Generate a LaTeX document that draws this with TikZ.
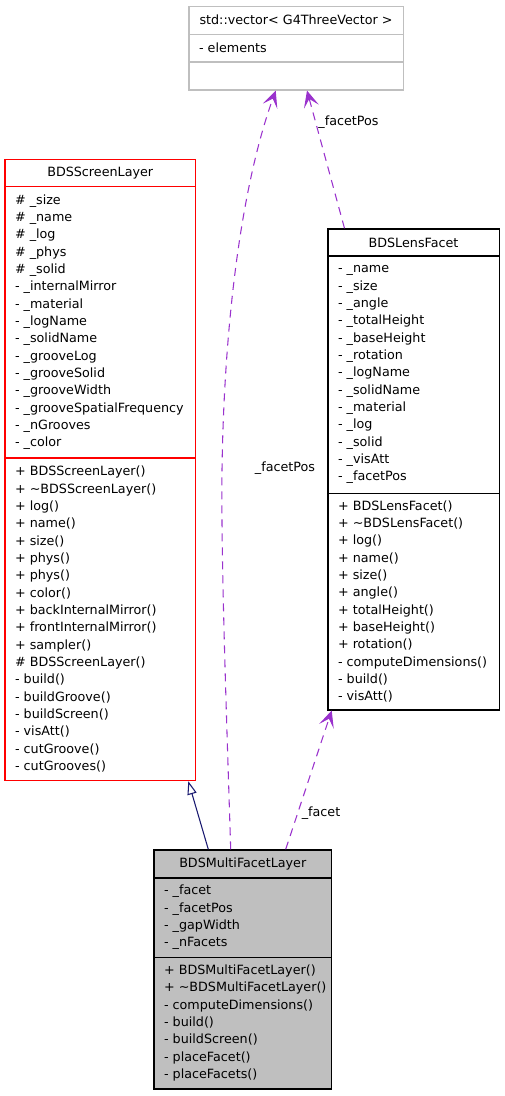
\documentclass[tikz,border=0pt]{standalone}
\usepackage{fontspec}
\setmainfont{DejaVu Sans}
\usetikzlibrary{arrows.meta,calc}
\definecolor{usepurple}{HTML}{9A32CD}
\definecolor{inhnavy}{HTML}{191970}
\definecolor{boxgray}{HTML}{BFBFBF}
\definecolor{boxred}{HTML}{FF0000}
\begin{document}
\begin{tikzpicture}[x=0.75pt,y=-0.75pt,
  every node/.style={font=\fontsize{9.55}{13}\selectfont, inner sep=0pt},
  cell/.style={draw, rectangle, anchor=north west, line width=0.9pt},
  lines/.style={anchor=west, align=left},
  usage/.style={draw=usepurple, line width=0.8pt, dash pattern=on 6pt off 4.5pt,
    -{Stealth[length=12.5pt,width=11.5pt,inset=6pt]}},
  inherit/.style={draw=inhnavy, line width=0.8pt,
    -{Triangle[open,length=10pt,width=7pt,fill=white]}}
]
\useasboundingbox (0,0) rectangle (504,1096);

% std::vector< G4ThreeVector >
\node[cell, draw=boxgray, minimum width=160.8pt, minimum height=20.9pt] (vt) at (188.3,5.7) {std::vector< G4ThreeVector >};
\node[cell, draw=boxgray, minimum width=160.8pt, minimum height=20.9pt] (va) at (188.3,33.6) {};
\node[lines] (vatx) at ($(va.west)+(10.5,0)$) {- elements};
\node[cell, draw=boxgray, minimum width=160.8pt, minimum height=20.9pt] (vm) at (188.3,61.5) {};

% BDSScreenLayer
\node[cell, draw=boxred, minimum width=143pt, minimum height=20.25pt] (st) at (4.3,159) {BDSScreenLayer};
\node[cell, draw=boxred, minimum width=143pt, minimum height=203.5pt] (sa) at (4.3,186) {};
\node[lines] (satx) at ($(sa.west)+(10.5,0)$) {\# \_size\\\# \_name\\\# \_log\\\# \_phys\\\# \_solid\\- \_internalMirror\\- \_material\\- \_logName\\- \_solidName\\- \_grooveLog\\- \_grooveSolid\\- \_grooveWidth\\- \_grooveSpatialFrequency\\- \_nGrooves\\- \_color};
\node[cell, draw=boxred, minimum width=143pt, minimum height=242pt] (sm) at (4.3,457.3) {};
\node[lines] (smtx) at ($(sm.west)+(10.5,0)$) {+ BDSScreenLayer()\\+ \textasciitilde BDSScreenLayer()\\+ log()\\+ name()\\+ size()\\+ phys()\\+ phys()\\+ color()\\+ backInternalMirror()\\+ frontInternalMirror()\\+ sampler()\\\# BDSScreenLayer()\\- build()\\- buildGroove()\\- buildScreen()\\- visAtt()\\- cutGroove()\\- cutGrooves()};

% BDSLensFacet
\node[cell, minimum width=128.4pt, minimum height=20.25pt] (lt) at (327.3,228.3) {BDSLensFacet};
\node[cell, minimum width=128.4pt, minimum height=178.05pt] (la) at (327.3,255.3) {};
\node[lines] (latx) at ($(la.west)+(10.5,0)$) {- \_name\\- \_size\\- \_angle\\- \_totalHeight\\- \_baseHeight\\- \_rotation\\- \_logName\\- \_solidName\\- \_material\\- \_log\\- \_solid\\- \_visAtt\\- \_facetPos};
\node[cell, minimum width=128.4pt, minimum height=162.45pt] (lm) at (327.3,492.7) {};
\node[lines] (lmtx) at ($(lm.west)+(10.5,0)$) {+ BDSLensFacet()\\+ \textasciitilde BDSLensFacet()\\+ log()\\+ name()\\+ size()\\+ angle()\\+ totalHeight()\\+ baseHeight()\\+ rotation()\\- computeDimensions()\\- build()\\- visAtt()};

% BDSMultiFacetLayer
\node[cell, fill=boxgray, minimum width=133.3pt, minimum height=21pt] (mt) at (153.3,849.3) {BDSMultiFacetLayer};
\node[cell, fill=boxgray, minimum width=133.3pt, minimum height=59.55pt] (ma) at (153.3,877.3) {};
\node[lines] (matx) at ($(ma.west)+(10.5,0)$) {- \_facet\\- \_facetPos\\- \_gapWidth\\- \_nFacets};
\node[cell, fill=boxgray, minimum width=133.3pt, minimum height=98.7pt] (mm) at (153.3,956.7) {};
\node[lines] (mmtx) at ($(mm.west)+(10.5,0)$) {+ BDSMultiFacetLayer()\\+ \textasciitilde BDSMultiFacetLayer()\\- computeDimensions()\\- build()\\- buildScreen()\\- placeFacet()\\- placeFacets()};

% labels
\node (lblfp1) at (285,468) {\_facetPos};
\node (lblfp2) at (348.5,122.5) {\_facetPos};
\node (lblf) at (321,813) {\_facet};

% connectors
\draw[inherit] ($(mt.north west)+(55,0)$) -- ($(sm.south west)+(184,0)$);
\draw[usage] ($(mt.north west)+(132.4,0)$) -- ($(lm.south west)+(4.4,0)$);
\draw[usage] ($(lt.north west)+(17.2,0)$) -- ($(vm.south west)+(118.7,0)$);
\draw[usage] ($(mt.north west)+(77.4,0)$) .. controls (226,700) and (221,560) .. (222,470)
  .. controls (224,330) and (240,190) .. ($(vm.south west)+(87.4,0)$);
\end{tikzpicture}
\end{document}
